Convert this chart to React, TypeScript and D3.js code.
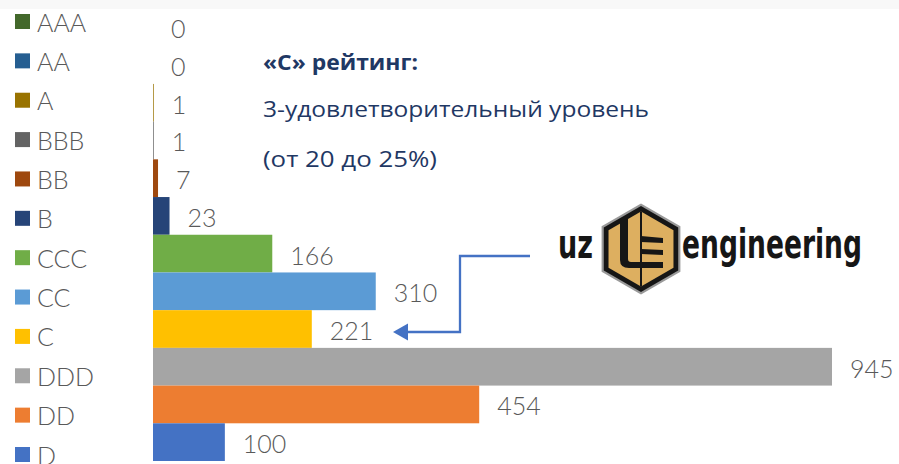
import React from "react";
import * as d3 from "d3";

const categories = ["AAA", "AA", "A", "BBB", "BB", "B", "CCC", "CC", "C", "DDD", "DD", "D"];
const values = [0, 0, 1, 1, 7, 23, 166, 310, 221, 945, 454, 100];
const colors = ["#43682B", "#255E91", "#997300", "#636363", "#9E480E", "#264478", "#70AD47", "#5B9BD5", "#FFC000", "#A5A5A5", "#ED7D31", "#4472C4"];
const titleLines = ["«С» рейтинг:", "3-удовлетворительный уровень", "(от 20 до 25%)"];
const logoLeft = "uz";
const logoRight = "engineering";

const W = 899;
const H = 464;

function hexPoints(cx: number, cy: number, r: number) {
  const pts: string[] = [];
  for (let i = 0; i < 6; i++) {
    const a = ((-90 + i * 60) * Math.PI) / 180;
    pts.push(`${cx + r * Math.cos(a)},${cy + r * Math.sin(a)}`);
  }
  return pts.join(" ");
}

export default function App() {
  const x = d3.scaleLinear().domain([0, d3.max(values) as number]).range([153, 832]);
  const y = d3.scaleBand<string>().domain(categories).range([8.5, 461]).padding(0);
  const legendY = d3.scalePoint<string>().domain(categories).range([21.5, 454.5]).padding(0);
  const font = "Lato, 'Open Sans', sans-serif";
  const tfont = "'Open Sans', 'Noto Sans', sans-serif";
  const cx = 641;
  const cy = 249;

  return (
    <svg
      width={W}
      height={H}
      viewBox={`0 0 ${W} ${H}`}
      style={{ position: "fixed", left: 0, top: 0, background: "#ffffff" }}
    >
      <rect x={0} y={0} width={W} height={H} fill="#ffffff" />
      <rect x={0} y={0} width={W} height={9} fill="#f8f8f8" />

      {/* legend */}
      {categories.map((c, i) => (
        <g key={"lg" + c}>
          <rect x={15} y={(legendY(c) as number) - 7.5} width={15} height={15} fill={colors[i]} />
          <text
            x={37}
            y={(legendY(c) as number) + 10}
            fontFamily={font}
            fontWeight={300}
            fontSize={25}
            fill="#595959"
          >
            {c}
          </text>
        </g>
      ))}

      {/* bars */}
      {categories.map((c, i) => (
        <rect
          key={"b" + c}
          x={x(0)}
          y={y(c) as number}
          width={Math.max(0, x(values[i]) - x(0))}
          height={y.bandwidth()}
          fill={colors[i]}
        />
      ))}

      {/* value labels */}
      {categories.map((c, i) => (
        <text
          key={"v" + c}
          x={x(values[i]) + 18}
          y={(y(c) as number) + y.bandwidth() / 2 + 11}
          fontFamily={font}
          fontWeight={300}
          fontSize={25}
          fill="#595959"
        >
          {values[i]}
        </text>
      ))}

      {/* annotation text */}
      <text x={263} y={70} fontFamily={tfont} fontSize={22} fontWeight={700} fill="#1F3864"
        textLength={155} lengthAdjust="spacingAndGlyphs">
        {titleLines[0]}
      </text>
      <text x={263} y={117} fontFamily={tfont} fontSize={22} fill="#1F3864"
        textLength={386} lengthAdjust="spacingAndGlyphs">
        {titleLines[1]}
      </text>
      <text x={263} y={167} fontFamily={tfont} fontSize={22} fill="#1F3864"
        textLength={174} lengthAdjust="spacingAndGlyphs">
        {titleLines[2]}
      </text>

      {/* arrow */}
      <polyline
        points="530,256 460,256 460,332 405,332"
        fill="none"
        stroke="#4472C4"
        strokeWidth={2.3}
      />
      <polygon points="393,332 408,323.5 408,340.5" fill="#4472C4" />

      {/* logo */}
      <g>
        <polygon points={hexPoints(cx, cy, 45.5)} fill="#9a9a9a" />
        <polygon points={hexPoints(cx, cy, 43)} fill="#161616" />
        <polygon points={hexPoints(cx, cy, 37.5)} fill="#DDAF60" />
        <line x1={cx} y1={cy - 37.5} x2={cx} y2={cy + 37.5} stroke="#161616" strokeWidth={2} />
        <path
          d={`M620,219 L628,219 L628,259 Q628,262 631,262 L${cx},262 L${cx},268 L629,268 Q620,268 620,260 Z`}
          fill="#161616"
        />
        <path d={`M${cx},236 L663,238 L663,243 L${cx},242 Z`} fill="#161616" />
        <path d={`M${cx},249 L663,250 L663,255 L${cx},254 Z`} fill="#161616" />
        <path d={`M${cx},262 L663,262 L663,268 L${cx},268 Z`} fill="#161616" />
        <text
          x={558}
          y={258}
          fontFamily="'DejaVu Sans Condensed', 'DejaVu Sans', sans-serif"
          fontWeight={700}
          fontSize={40}
          fill="#161616"
          textLength={35}
          lengthAdjust="spacingAndGlyphs"
        >
          {logoLeft}
        </text>
        <text
          x={682}
          y={258}
          fontFamily="'DejaVu Sans Condensed', 'DejaVu Sans', sans-serif"
          fontWeight={700}
          fontSize={40}
          fill="#161616"
          textLength={180}
          lengthAdjust="spacingAndGlyphs"
        >
          {logoRight}
        </text>
      </g>
    </svg>
  );
}
